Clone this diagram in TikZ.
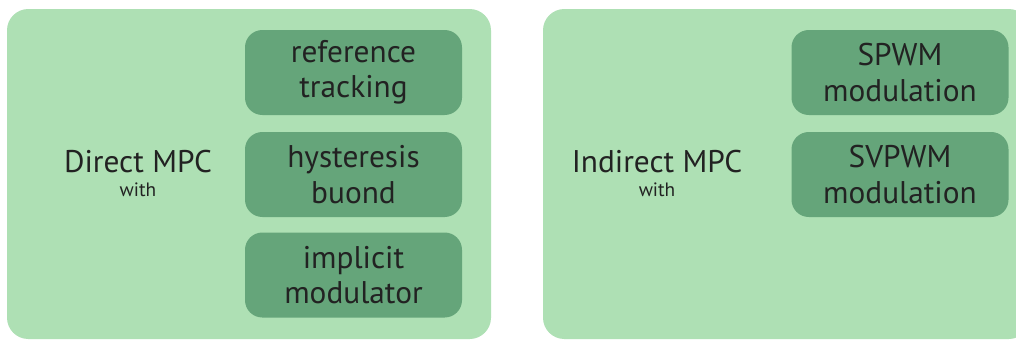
\documentclass[tikz,border=0pt]{standalone}
\usepackage{fontspec}
\setmainfont{PT Sans}
\definecolor{outerg}{RGB}{174,224,180}
\definecolor{innerg}{RGB}{101,165,122}
\definecolor{txt}{RGB}{34,34,34}
\begin{document}
\begin{tikzpicture}[x=0.75pt,y=-0.75pt,
  outerbox/.style={rectangle, rounded corners=16pt, fill=outerg, draw=none, inner sep=0pt},
  innerbox/.style={rectangle, rounded corners=13pt, fill=innerg, draw=none, inner sep=0pt,
    minimum width=162.75pt, minimum height=63.75pt, align=center, text=txt,
    font=\fontsize{23.5}{26.5}\selectfont},
  mainlbl/.style={text=txt, font=\fontsize{23.5}{26}\selectfont, inner sep=0pt},
  sublbl/.style={text=txt, font=\fontsize{14.5}{16}\selectfont, inner sep=0pt}]
\useasboundingbox (0,0) rectangle (1016,340);
\fill[white] (0,0) rectangle (1016,340);
\clip (0,0) rectangle (1016,340);
\node[outerbox, minimum width=363pt, minimum height=247.5pt] (L) at (249,174) {};
\node[outerbox, minimum width=365.25pt, minimum height=247.5pt] (R) at (786.5,174) {};
\node[innerbox] (a1) at (353.5,72.5) {reference\\tracking};
\node[innerbox] (a2) at (353.5,174.5) {hysteresis\\buond};
\node[innerbox] (a3) at (353.5,275) {implicit\\modulator};
\node[innerbox] (b1) at (900,72.5) {SPWM\\modulation};
\node[innerbox] (b2) at (900,174.5) {SVPWM\\modulation};
\node[mainlbl] (dl) at (138,162) {Direct MPC};
\node[sublbl] (dw) at (138,190) {with};
\node[mainlbl] (il) at (657,162) {Indirect MPC};
\node[sublbl] (iw) at (657,190) {with};
\end{tikzpicture}
\end{document}
